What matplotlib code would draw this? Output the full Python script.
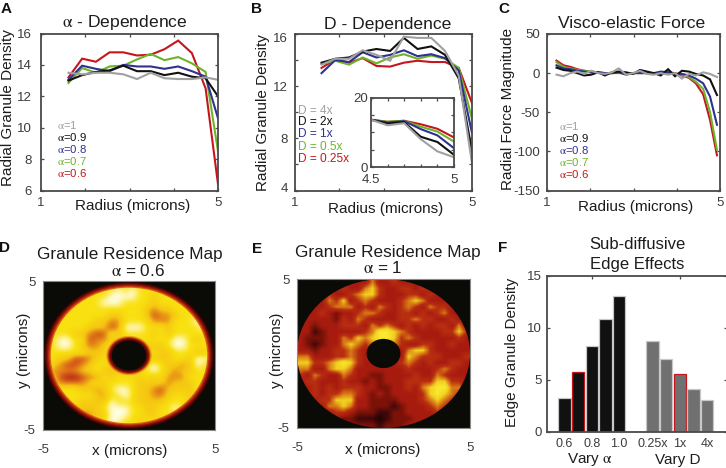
import numpy as np
import matplotlib
matplotlib.use("Agg")
import matplotlib.pyplot as plt
from matplotlib.colors import LinearSegmentedColormap
from matplotlib.patches import Ellipse
from matplotlib.transforms import ScaledTranslation

plt.rcParams['font.family'] = ['Liberation Sans', 'DejaVu Sans']
plt.rcParams['mathtext.fontset'] = 'stix'
plt.rcParams['axes.unicode_minus'] = False

W, H = 726, 468
A = r'$\mathrm{\alpha}$'

C_RED, C_GREEN, C_BLUE, C_BLACK, C_GRAY = '#c4161c', '#6fb32a', '#2e3192', '#111111', '#a0a0a0'
SPINE = '#4a4a4a'
TICKTXT = '#3c3c3c'
DARK = '#1c1c1c'

# Panel A
a_x = [1.62, 1.93, 2.24, 2.55, 2.86, 3.17, 3.48, 3.79, 4.10, 4.41, 4.72, 5.0]
a_red = [13.2, 14.4, 14.2, 14.8, 14.8, 14.6, 14.65, 15.0, 15.55, 14.75, 12.5, 6.4]
a_green = [12.85, 13.8, 13.5, 13.9, 13.95, 14.35, 14.7, 14.3, 14.5, 14.1, 13.55, 8.5]
a_blue = [13.05, 13.95, 13.75, 13.6, 14.0, 13.9, 13.9, 13.75, 13.9, 13.6, 13.25, 10.6]
a_black = [13.0, 13.35, 13.55, 13.65, 13.95, 13.6, 13.6, 13.35, 13.5, 13.25, 13.15, 12.0]
a_gray = [13.5, 13.4, 13.5, 13.5, 13.4, 13.1, 13.5, 13.15, 13.1, 13.1, 13.2, 13.05]

# Panel B
b_x = [1.6, 1.91, 2.22, 2.53, 2.84, 3.15, 3.46, 3.77, 4.08, 4.39, 4.70, 5.0]
b_red = [13.4, 14.05, 13.8, 14.15, 13.55, 13.5, 13.8, 13.95, 13.85, 13.85, 13.4, 10.7]
b_green = [13.7, 13.95, 13.65, 14.2, 13.75, 14.2, 14.45, 14.1, 14.35, 14.1, 13.4, 9.5]
b_blue = [13.0, 14.0, 13.85, 14.6, 14.2, 14.4, 14.75, 14.3, 14.45, 14.15, 13.2, 8.4]
b_black = [13.8, 14.1, 14.2, 14.65, 14.85, 14.7, 15.7, 14.85, 15.05, 14.4, 12.6, 7.0]
b_gray = [13.65, 14.1, 14.1, 14.75, 14.4, 13.95, 15.8, 15.7, 15.7, 14.7, 12.8, 6.1]

# Panel B inset
i_x = [4.5, 4.6, 4.7, 4.8, 4.9, 5.0]
i_red = [13.6, 13.0, 13.3, 12.3, 11.0, 8.5]
i_green = [13.6, 13.0, 13.3, 11.6, 10.2, 7.3]
i_blue = [13.6, 12.8, 13.2, 10.9, 9.1, 5.4]
i_black = [13.6, 12.5, 12.9, 8.7, 7.2, 3.5]
i_gray = [13.6, 12.0, 12.6, 8.0, 4.5, 2.8]

# Panel C
c_x = [1.22, 1.38, 1.54, 1.70, 1.86, 2.02, 2.18, 2.34, 2.50, 2.66, 2.83, 2.99,
       3.15, 3.31, 3.47, 3.63, 3.80, 3.96, 4.12, 4.28, 4.44, 4.61, 4.77, 4.93]
c_red = [16, 10, 8, 5, 3, 2, 1, 0, 0, 1, -1, 0, 1, 0, -1, 0, 1, 0, -3, -6, -13, -27, -60, -105]
c_green = [14, 8, 6, 4, 3, 2, 1, 0, 0, 0, 0, 0, 0, 0, -1, 0, 0, -1, -2, -5, -11, -20, -50, -98]
c_blue = [10, 6, 5, 3, 2, 1, 1, 0, 0, 1, -2, 0, 0, 0, 0, 2, 1, -1, -1, -3, -7, -13, -30, -66]
c_black = [7, 4, 3, 0, -3, -2, 1, -3, 1, 2, 1, -1, 4, 2, 0, -3, 5, -4, 3, 2, -1, -3, -8, -28]
c_gray = [-2, -4, 0, 2, -1, 3, 0, -1, 1, 6, -2, 0, 3, -1, -2, 0, -2, 0, -7, -1, -3, 1, -1, -5]

# Panel D: residence map estimate (rows top to bottom, digit = level 0-9)
d_rows = ["888888888888888888888888", "888888888898988888888888", "888888888999988788888888",
          "888888889998888788888888", "888888888888887677888888", "888888888778887566788888",
          "888888877668888666888988", "888888777569998887888898", "888877655878888787888888",
          "889988566778888888998788", "889987667888877778998888", "888888777888777877888778",
          "887755678777777777887998", "876556788777778987767988", "766667787777788987677888",
          "775445668788878786668888", "876666787888877776777888", "888887767899877657777888",
          "778888876889877667887788", "787887777988877778887788", "878877778999887788988777",
          "887876677999887788888788", "888887778998878878888778", "888888888888888888888888"]

# Panel E: residence map estimate
e_rows = ["444444444464454444444444", "444444544675445545444444", "444454456775444554544444",
          "444465745654445676444444", "444456664546545654655444", "444543445665445545456444",
          "444443546544445565544544", "443444555465654545455464", "442344444568876544445575",
          "433344657678875654444454", "432344676566665445544544", "443445565445444677544444",
          "664445565454444765554445", "775567875444445654544554", "664467764444444544456544",
          "546544654433444454465444", "455444544343444555577554", "445454555443344546788664",
          "445455665434344445787654", "444557774433334445676544", "444466764433323444565444",
          "444445543332233444454444", "444444332221233344444444", "444444433332333444444444"]

# Panel F
f_x_alpha = [1, 2, 3, 4, 5]
f_alpha = [3.3, 5.75, 8.3, 10.85, 13.1]
f_x_d = [7.45, 8.45, 9.45, 10.45, 11.45]
f_d = [8.75, 7.05, 5.6, 4.1, 3.1]
f_tick_pos = [1, 3, 5, 7.45, 9.45, 11.45]
f_tick_lab = ['0.6', '0.8', '1.0', '0.25x', '1x', '4x']

alpha_labels = ['=1', '=0.9', '=0.8', '=0.7', '=0.6']
d_labels = ['D = 4x', 'D = 2x', 'D = 1x', 'D = 0.5x', 'D = 0.25x']
legend_colors = [C_GRAY, C_BLACK, C_BLUE, C_GREEN, C_RED]
line_colors = [C_RED, C_GREEN, C_BLUE, C_BLACK, C_GRAY]

cmap_d = LinearSegmentedColormap.from_list('resd', [
    (0.0, '#000000'), (0.25, '#5a0a05'), (0.45, '#ab1c0e'), (0.6, '#d8601a'),
    (0.75, '#f5c412'), (0.89, '#f9e010'), (1.0, '#fffde0')])
cmap_e = LinearSegmentedColormap.from_list('rese', [
    (0.0, '#000000'), (2 / 9, '#40080a'), (3 / 9, '#7a1208'), (4 / 9, '#a81c10'),
    (5 / 9, '#b82e10'), (6 / 9, '#d87a16'), (7 / 9, '#f2d020'), (8 / 9, '#f8e830'), (1.0, '#fff8a0')])

fig = plt.figure(figsize=(W / 100, H / 100), dpi=100)


def axpx(x0, x1, y0, y1):
    return fig.add_axes([x0 / W, 1 - y1 / H, (x1 - x0) / W, (y1 - y0) / H])


def ftext(x, y, s, **kw):
    kw.setdefault('ha', 'center')
    kw.setdefault('va', 'center')
    kw.setdefault('color', DARK)
    return fig.text(x / W, 1 - y / H, s, **kw)


def style(ax, lw=1.3):
    for s in ax.spines.values():
        s.set_linewidth(lw)
        s.set_color(SPINE)
    ax.tick_params(which='both', direction='in', top=True, right=True, length=2.2, width=0.9,
                   color=SPINE, labelcolor=TICKTXT, labelsize=9.5)


def line_panel(rect, x, series, ylim, yticks, ylabs, xl, yl, yl_text, title, tx, ty, ypad):
    ax = axpx(*rect)
    for v, c in zip(series, line_colors):
        ax.plot(x, v, color=c, lw=1.5, solid_joinstyle='miter')
    ax.set_xlim(1, 5)
    ax.set_ylim(*ylim)
    ax.set_xticks([1, 2, 3, 4, 5], ['1', '', '', '', '5'])
    ax.set_yticks(yticks, ylabs)
    style(ax)
    ax.tick_params(axis='x', pad=5)
    ax.tick_params(axis='y', pad=ypad)
    ftext(xl[0], xl[1], 'Radius (microns)', fontsize=11)
    ftext(yl[0], yl[1], yl_text, fontsize=11, rotation=90)
    ftext(tx, ty, title, fontsize=12.6)
    return ax


# --- A ---
line_panel((41, 218, 33.5, 190.5), a_x, [a_red, a_green, a_blue, a_black, a_gray],
           (6, 16), [6, 8, 10, 12, 14, 16], ['6', '8', '10', '12', '14', '16'],
           (133, 206), (8.5, 108), 'Radial Granule Density', A + ' - Dependence', 125, 22, 6.5)

# --- B ---
axB = line_panel((295, 472, 34, 190.5), b_x, [b_red, b_green, b_blue, b_black, b_gray],
                 (4, 16), [4, 6, 8, 10, 12, 14, 16], ['4', '', '8', '', '12', '', '16'],
                 (386, 209), (262.5, 113), 'Radial Granule Density', 'D - Dependence', 388, 24, 5)
for lab, dy in ((axB.get_yticklabels()[0], 3), (axB.get_yticklabels()[-1], -4)):
    lab.set_transform(lab.get_transform() + ScaledTranslation(0, dy / 100, fig.dpi_scale_trans))

ins = axpx(371, 454, 97.5, 167)
for v, c in zip([i_red, i_green, i_blue, i_black, i_gray], line_colors):
    ins.plot(i_x, v, color=c, lw=1.5)
ins.set_xlim(4.5, 5)
ins.set_ylim(0, 20)
ins.set_xticks([4.5, 4.6, 4.7, 4.8, 4.9, 5.0], ['4.5', '', '', '', '', '5'])
ins.set_yticks([0, 5, 10, 15, 20], ['0', '', '', '', '20'])
style(ins)
ins.tick_params(axis='x', pad=5)
ins.tick_params(axis='y', pad=2)

# --- C ---
line_panel((547, 720, 34, 190.5), c_x, [c_red, c_green, c_blue, c_black, c_gray],
           (-150, 50), [-150, -100, -50, 0, 50], ['-150', '-100', '-50', '0', '50'],
           (636, 207), (508, 109), 'Radial Force Magnitude', 'Visco-elastic Force', 632, 24, 5)

# legends
for lab, c, y in zip(alpha_labels, legend_colors, [125.5, 137, 149, 161, 173]):
    ftext(57, y, A + lab, color=c, fontsize=8.2, ha='left')
for lab, c, y in zip(alpha_labels, legend_colors, [126.5, 138.5, 150.5, 162.5, 174.5]):
    ftext(559, y, A + lab, color=c, fontsize=8.2, ha='left')
for lab, c, y in zip(d_labels, legend_colors, [111, 122, 134, 147, 159]):
    ftext(298, y, lab, color=c, fontsize=8.6, ha='left')


# --- maps ---
def grid(rows):
    return np.array([[int(ch) / 9 for ch in r] for r in rows])


def map_panel(rect, rows, cmap, r_clip, ring_out, ring_hole, interp):
    ax = axpx(*rect)
    ax.set_facecolor('#0a0a06')
    for r, c in ring_out:
        ax.add_patch(Ellipse((0, 0), 2 * r, 2 * r, fc=c, ec='none', zorder=1))
    im = ax.imshow(grid(rows), cmap=cmap, vmin=0, vmax=1, extent=(-5, 5, -5, 5),
                   aspect='auto', interpolation=interp, zorder=2)
    im.set_clip_path(Ellipse((0, 0), 2 * r_clip, 2 * r_clip, transform=ax.transData))
    for r, c, a in ring_hole:
        ax.add_patch(Ellipse((0.0, 0.0), 2 * r, 2 * r, fc=c, ec='none', alpha=a, zorder=3))
    ax.set_xlim(-5, 5)
    ax.set_ylim(-5, 5)
    ax.set_xticks([-5, 5], ['-5', '5'])
    ax.set_yticks([-5, 5], ['-5', '5'])
    for s in ax.spines.values():
        s.set_linewidth(0.8)
        s.set_color('#8a8a8a')
    ax.tick_params(length=0, labelsize=9.5, labelcolor=TICKTXT)
    ax.tick_params(axis='x', pad=10)
    ax.tick_params(axis='y', pad=5.5)
    return ax


map_panel((43, 215, 281, 430), d_rows, cmap_d, 4.55,
          [(4.95, '#2a0502'), (4.87, '#5a0a05'), (4.79, '#8e1208'), (4.71, '#b82a0c'), (4.63, '#d8601a')],
          [(1.32, '#d8601a', 0.5), (1.24, '#b82a0c', 0.8), (1.17, '#8e1208', 1), (1.1, '#5a0a05', 1),
           (1.0, '#0a0a06', 1)], 'bicubic')
ftext(130, 255, 'Granule Residence Map', fontsize=12.3)
ftext(138, 271, A + ' = 0.6', fontsize=12.3)
ftext(130, 451, 'x (microns)', fontsize=11)
ftext(24, 350, 'y (microns)', fontsize=11, rotation=90)

map_panel((297, 470, 279, 428), e_rows, cmap_e, 5.0, [],
          [(0.98, '#0a0a06', 1)], 'bilinear')
ftext(388, 252, 'Granule Residence Map', fontsize=12.3)
ftext(383, 268, A + ' = 1', fontsize=12.3)
ftext(383, 450, 'x (microns)', fontsize=11)
ftext(277, 350, 'y (microns)', fontsize=11, rotation=90)

# --- F ---
axF = axpx(547, 726.5, 276, 432)
al_edges = ['#c8c8c8', C_RED, '#c8c8c8', '#c8c8c8', '#c8c8c8']
d_edges = ['#c8c8c8', '#c8c8c8', C_RED, '#c8c8c8', '#c8c8c8']
axF.bar(f_x_alpha, f_alpha, width=0.9, color='#111111', edgecolor=al_edges, linewidth=0.9)
axF.bar(f_x_d, f_d, width=0.9, color='#707070', edgecolor=d_edges, linewidth=0.9)
axF.set_xlim(-0.28, 12.87)
axF.set_ylim(0, 15)
axF.set_xticks(f_tick_pos, f_tick_lab)
axF.set_yticks([0, 5, 10, 15], ['0', '5', '10', '15'])
style(axF)
axF.tick_params(axis='x', length=0, top=False, pad=4, labelsize=9)
axF.tick_params(axis='y', pad=3.5, labelsize=9.5)
sec = axF.secondary_xaxis('top')
sec.set_xticks([3, 9.45], ['', ''])
sec.tick_params(direction='in', length=2.2, width=0.9, color=SPINE)
sec.spines['top'].set_visible(False)
ftext(637, 244, 'Sub-diffusive', fontsize=12)
ftext(637, 264, 'Edge Effects', fontsize=12)
ftext(512, 352, 'Edge Granule Density', fontsize=11, rotation=90)
ftext(590, 460, 'Vary ' + A, fontsize=11)
ftext(678, 460, 'Vary D', fontsize=11)

# panel letters
for s, x, y in [('A', 6, 9), ('B', 257, 9), ('C', 504, 9), ('D', 5, 248), ('E', 257, 249), ('F', 503, 248)]:
    ftext(x, y, s, fontsize=11, fontweight='bold', color='#111111')

fig.savefig('out.png', dpi=100)
